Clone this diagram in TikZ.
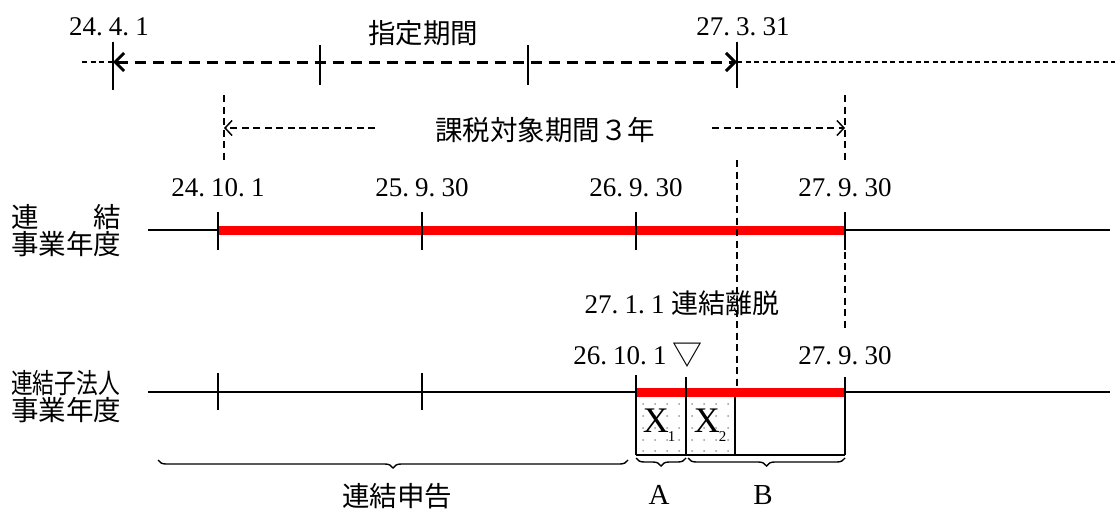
\documentclass[tikz,border=0pt]{standalone}
\usepackage{fontspec}
\setmainfont{Liberation Serif}
\newfontfamily\jp{Noto Sans CJK JP}
\usetikzlibrary{arrows.meta,decorations.pathreplacing}
\newcommand\dsep{.\kern0.23em}
\tikzset{
  lbl/.style={font=\fontsize{27}{27}\selectfont, inner sep=0pt},
  jlbl/.style={font=\jp\fontsize{27.5}{27}\selectfont, inner sep=0pt},
  tickline/.style={line width=1.6pt},
  thickdash/.style={line width=3pt, dash pattern=on 11pt off 7pt},
  thindash/.style={line width=1.5pt, dash pattern=on 7pt off 4.5pt},
  finedash/.style={line width=1.2pt, dash pattern=on 5pt off 3.5pt},
  axis/.style={line width=1.6pt},
  redbar/.style={draw=red, line width=9pt},
  barb/.tip={Straight Barb[length=9pt,width=18pt]},
  barbthin/.tip={Straight Barb[length=7pt,width=15pt]},
  dotc/.style={fill=gray!80},
  boxline/.style={line width=1.6pt},
  brc/.style={line width=1.4pt, decorate, decoration={brace, mirror, amplitude=8pt}}
}
\begin{document}
\begin{tikzpicture}[x=1pt,y=-1pt]
\useasboundingbox (0,0) rectangle (1115,511);
% ---------- top: designated period ----------
\coordinate (t0) at (82,62);
\coordinate (t1) at (113,62);
\coordinate (t2) at (320,62);
\coordinate (t3) at (528,62);
\coordinate (t4) at (737,62);
\coordinate (t5) at (1115,62);
\draw[finedash] (t0) -- (t1);
\draw[finedash] (t4) -- (t5);
\draw[thickdash, {barb}-{barb}] (t1) -- (t4);
\draw[tickline] (113,42) -- (113,90);
\draw[tickline] (320,45) -- (320,85);
\draw[tickline] (528,45) -- (528,85);
\draw[tickline] (737,42) -- (737,88);
\node[lbl] (d1) at (109,27) {24\dsep 4\dsep 1};
\node[jlbl] (shitei) at (423,33) {指定期間};
\node[lbl] (d2) at (743,27) {27\dsep 3\dsep 31};
% ---------- taxable period 3 years ----------
\coordinate (v1a) at (224,95);
\coordinate (v1b) at (224,162);
\coordinate (v2a) at (845,95);
\coordinate (v2b) at (845,162);
\draw[thindash] (v1a) -- (v1b);
\draw[thindash] (v2a) -- (v2b);
\node[jlbl] (kazei) at (545,130) {課税対象期間３年};
\coordinate (k1) at (375,128);
\coordinate (k2) at (712,128);
\coordinate (kL) at (224,128);
\coordinate (kR) at (845,128);
\draw[thindash, -{barbthin}] (k1) -- (kL);
\draw[thindash, -{barbthin}] (k2) -- (kR);
% ---------- consolidated business year ----------
\node[jlbl, anchor=west, align=left] (row1) at (11,231) {\makebox[4em]{連\hfill 結}\\事業年度};
\coordinate (m0) at (148,230);
\coordinate (m1) at (218,230);
\coordinate (m2) at (422,230);
\coordinate (m3) at (636,230);
\coordinate (m4) at (845,230);
\coordinate (m5) at (1110,230);
\draw[axis] (m0) -- (m5);
\draw[redbar] (m1) -- (m4);
\foreach \x in {218,422,636,845} \draw[tickline] (\x,212) -- (\x,250);
\node[lbl] (e1) at (218,188) {24\dsep 10\dsep 1};
\node[lbl] (e2) at (422,188) {25\dsep 9\dsep 30};
\node[lbl] (e3) at (636,188) {26\dsep 9\dsep 30};
\node[lbl] (e4) at (845,188) {27\dsep 9\dsep 30};
% dashed verticals
\draw[thindash] (737,160) -- (737,397);
\draw[thindash] (845,240) -- (845,330);
% ---------- subsidiary business year ----------
\node[lbl] (ridatsu) at (682,303) {27\dsep 1\dsep 1 {\jp 連結離脱}};
\node[lbl] (f1) at (620,356) {26\dsep 10\dsep 1};
\node[jlbl, font=\jp\fontsize{30}{30}\selectfont] (tri) at (687,355) {▽};
\node[lbl] (f2) at (845,356) {27\dsep 9\dsep 30};
\node[jlbl, anchor=west, align=left] (row2) at (11,397) {\scalebox{0.79}[1]{連結子法人}\\事業年度};
\coordinate (b0) at (148,392);
\coordinate (b5) at (1110,392);
\draw[axis] (b0) -- (b5);
\foreach \x in {218,422} \draw[tickline] (\x,373) -- (\x,410);
% dots
\foreach \x in {643,655,667,679,692,704,716,728}
  \foreach \y in {404,416,428,440,451}
    \fill[dotc] (\x,\y) circle (1pt);
\draw[redbar] (636,392) -- (845,392);
\draw[boxline] (636,375) -- (636,455);
\draw[boxline] (686,377) -- (686,455);
\draw[boxline] (845,377) -- (845,455);
\draw[boxline] (735,397) -- (735,455);
\draw[boxline] (636,455) -- (845,455);
\node[inner sep=0pt, font=\fontsize{36}{36}\selectfont] (x1) at (659,425) {X\kern-1pt\raisebox{-0.25em}{\fontsize{15}{15}\selectfont 1}};
\node[inner sep=0pt, font=\fontsize{36}{36}\selectfont] (x2) at (710,425) {X\kern-1pt\raisebox{-0.25em}{\fontsize{15}{15}\selectfont 2}};
% braces
\draw[brc] (158,460) -- (628,460);
\draw[brc] (636,458) -- (686,458);
\draw[brc] (688,458) -- (845,458);
\node[jlbl] (renketsu) at (397,496) {連結申告};
\node[lbl, font=\fontsize{29}{29}\selectfont] (A) at (659,495) {A};
\node[lbl, font=\fontsize{29}{29}\selectfont] (B) at (763,495) {B};
\end{tikzpicture}
\end{document}
